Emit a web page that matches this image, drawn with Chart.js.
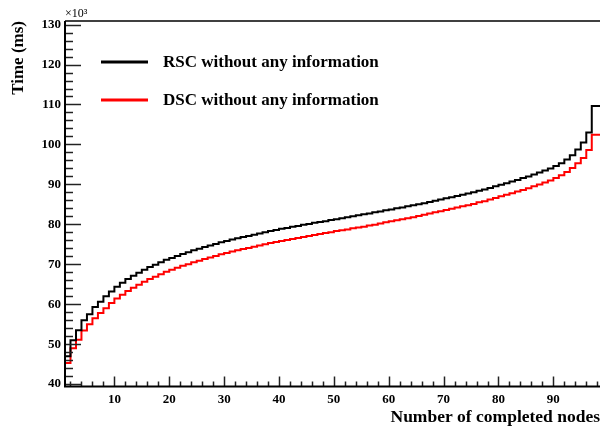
<!DOCTYPE html>
<html>
<head>
<meta charset="utf-8">
<script src="https://cdn.jsdelivr.net/npm/chart.js@4.4.1/dist/chart.umd.min.js"></script>
<style>
  html, body { margin: 0; padding: 0; background: #fff; }
  #wrap { width: 600px; height: 430px; }
</style>
</head>
<body>
<div id="wrap"><canvas id="timeChart" width="600" height="430"></canvas></div>
<script>
// Datos: tiempo (x10^3 ms) por numero de nodos completados, un valor por bin [n, n+1]
const firstBin = 1;
const rscTime = [
  43.5, 47.0, 51.0, 53.5, 56.0, 57.5, 59.3, 60.6, 62.0, 63.2,
  64.4, 65.4, 66.3, 67.1, 67.9, 68.6, 69.3, 69.9, 70.5, 71.1,
  71.6, 72.1, 72.6, 73.0, 73.5, 73.9, 74.3, 74.7, 75.1, 75.5,
  75.8, 76.2, 76.5, 76.8, 77.1, 77.4, 77.7, 78.0, 78.3, 78.6,
  78.9, 79.1, 79.4, 79.6, 79.9, 80.1, 80.4, 80.6, 80.8, 81.1,
  81.3, 81.5, 81.8, 82.0, 82.3, 82.5, 82.7, 83.0, 83.2, 83.5,
  83.7, 84.0, 84.2, 84.5, 84.8, 85.0, 85.3, 85.6, 85.9, 86.2,
  86.5, 86.8, 87.1, 87.4, 87.7, 88.0, 88.4, 88.7, 89.1, 89.5,
  89.9, 90.3, 90.7, 91.1, 91.6, 92.0, 92.5, 93.0, 93.5, 94.0,
  94.6, 95.3, 96.2, 97.3, 98.7, 100.5, 103.0, 109.6
];
const dscTime = [
  41.5, 45.3, 49.0, 51.1, 53.4, 55.0, 56.5, 57.8, 59.0, 60.3,
  61.4, 62.4, 63.3, 64.1, 64.9, 65.6, 66.3, 66.9, 67.5, 68.1,
  68.6, 69.1, 69.6, 70.0, 70.5, 70.9, 71.3, 71.7, 72.1, 72.5,
  72.8, 73.2, 73.5, 73.8, 74.1, 74.4, 74.7, 75.0, 75.3, 75.6,
  75.8, 76.1, 76.3, 76.6, 76.8, 77.1, 77.3, 77.6, 77.8, 78.0,
  78.3, 78.5, 78.7, 79.0, 79.2, 79.4, 79.7, 79.9, 80.2, 80.5,
  80.8, 81.0, 81.3, 81.5, 81.8, 82.1, 82.4, 82.7, 83.0, 83.3,
  83.6, 83.9, 84.2, 84.5, 84.8, 85.1, 85.5, 85.8, 86.2, 86.6,
  87.0, 87.4, 87.8, 88.2, 88.6, 89.0, 89.5, 90.0, 90.5, 91.0,
  91.6, 92.3, 93.1, 94.1, 95.3, 96.6, 98.6, 102.4
];
const xTicks = [10, 20, 30, 40, 50, 60, 70, 80, 90];
const yTicks = [40, 50, 60, 70, 80, 90, 100, 110, 120, 130];
const seriesNames = ['RSC without any information', 'DSC without any information'];

const serif = '"Liberation Serif", "Times New Roman", serif';

// histograma: cada bin empieza en su borde inferior, se cierra con el borde del ultimo bin
function histPoints(values) {
  const pts = values.map((v, i) => ({ x: firstBin + i, y: v }));
  pts.push({ x: firstBin + values.length, y: values[values.length - 1] });
  return pts;
}

// Marco estilo ROOT: ejes, ticks hacia dentro, leyenda y factor x10^3
const rootFrame = {
  id: 'rootFrame',
  afterDatasetsDraw(chart) {
    const { ctx, chartArea: a, scales: { x, y } } = chart;
    ctx.save();

    ctx.strokeStyle = '#222';
    ctx.lineWidth = 1.5;
    for (let v = 40; v <= 130; v += 2) {
      const py = Math.round(y.getPixelForValue(v)) + 0.5;
      const len = v % 10 === 0 ? 16 : 8;
      ctx.beginPath();
      ctx.moveTo(a.left, py);
      ctx.lineTo(a.left + len, py);
      ctx.stroke();
    }
    for (let v = 2; v <= 98; v += 2) {
      const px = Math.round(x.getPixelForValue(v)) + 0.5;
      const len = v % 10 === 0 ? 10 : 5;
      ctx.beginPath();
      ctx.moveTo(px, a.bottom);
      ctx.lineTo(px, a.bottom - len);
      ctx.stroke();
    }

    // borde superior fino
    ctx.strokeStyle = '#000';
    ctx.lineWidth = 1.5;
    ctx.beginPath();
    ctx.moveTo(a.left, a.top);
    ctx.lineTo(a.right, a.top);
    ctx.stroke();

    // ejes
    ctx.lineWidth = 2;
    ctx.beginPath();
    ctx.moveTo(a.left, a.top);
    ctx.lineTo(a.left, a.bottom);
    ctx.lineTo(a.right, a.bottom);
    ctx.stroke();

    // factor de escala
    ctx.fillStyle = '#000';
    ctx.font = '12px ' + serif;
    ctx.textAlign = 'left';
    ctx.textBaseline = 'alphabetic';
    ctx.fillText('\u00d710\u00b3', a.left, a.top - 4);

    // leyenda
    ctx.font = 'bold 17px ' + serif;
    ctx.textBaseline = 'middle';
    const rows = [62, 100];
    chart.data.datasets.forEach((ds, i) => {
      ctx.strokeStyle = ds.borderColor;
      ctx.lineWidth = 3;
      ctx.beginPath();
      ctx.moveTo(101, rows[i]);
      ctx.lineTo(148, rows[i]);
      ctx.stroke();
      ctx.fillStyle = '#000';
      ctx.fillText(ds.label, 163, rows[i] + 1);
    });

    ctx.restore();
  }
};

new Chart(document.getElementById('timeChart').getContext('2d'), {
  type: 'line',
  data: {
    datasets: [
      {
        label: seriesNames[0],
        data: histPoints(rscTime),
        borderColor: '#000000',
        borderWidth: 2,
        stepped: 'after',
        pointRadius: 0,
        fill: false
      },
      {
        label: seriesNames[1],
        data: histPoints(dscTime),
        borderColor: '#ff0000',
        borderWidth: 2,
        stepped: 'after',
        pointRadius: 0,
        fill: false
      }
    ]
  },
  options: {
    responsive: false,
    animation: false,
    devicePixelRatio: 1,
    layout: { padding: { top: 21, right: 0, left: 0, bottom: 0 } },
    plugins: {
      legend: { display: false },
      tooltip: { enabled: false }
    },
    scales: {
      x: {
        type: 'linear',
        min: 1,
        max: 98.5,
        grid: { display: false, drawTicks: false },
        border: { display: false },
        afterBuildTicks: (s) => { s.ticks = xTicks.map(v => ({ value: v })); },
        afterFit: (s) => { s.height = 43.5; },
        ticks: {
          color: '#000',
          padding: 5,
          maxRotation: 0,
          font: { family: serif, size: 13, weight: 'bold' }
        },
        title: {
          display: true,
          text: 'Number of completed nodes',
          align: 'end',
          color: '#000',
          padding: { top: 0, bottom: 2 },
          font: { family: serif, size: 17.5, weight: 'bold' }
        }
      },
      y: {
        min: 39.4,
        max: 130.9,
        grid: { display: false, drawTicks: false },
        border: { display: false },
        afterBuildTicks: (s) => { s.ticks = yTicks.map(v => ({ value: v })); },
        afterFit: (s) => { s.width = 65; },
        ticks: {
          color: '#000',
          padding: 4,
          font: { family: serif, size: 13, weight: 'bold' }
        },
        title: {
          display: true,
          text: 'Time (ms)',
          align: 'end',
          color: '#000',
          padding: { top: 8, bottom: 0 },
          font: { family: serif, size: 17, weight: 'bold' }
        }
      }
    }
  },
  plugins: [rootFrame]
});
</script>
</body>
</html>
